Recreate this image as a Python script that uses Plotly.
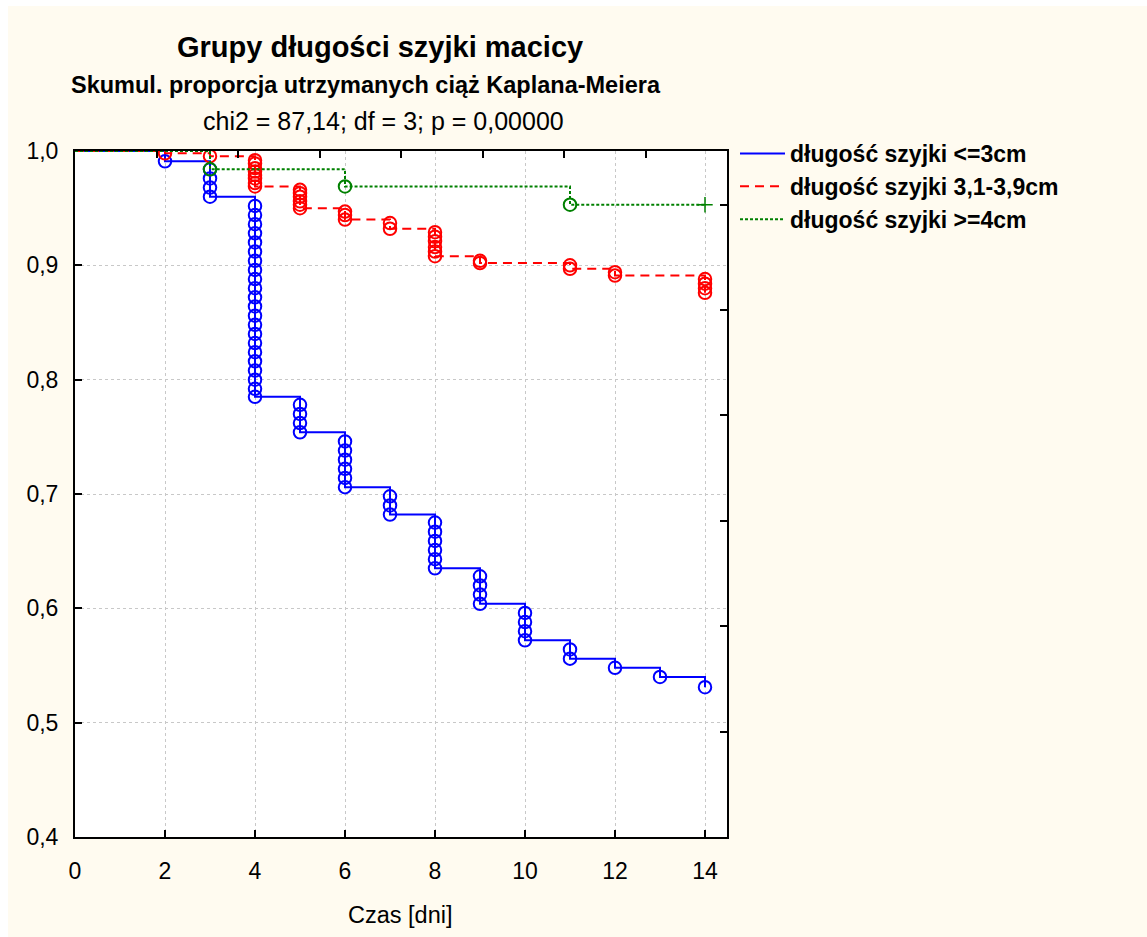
import plotly.graph_objects as go

# ---------------- data ----------------
# group 1: cervix length <= 3 cm  (step curve + event circles)
g1_name = "długość szyjki <=3cm"
g1_step_t = [0, 2, 3, 4, 5, 6, 7, 8, 9, 10, 11, 12, 13, 14]
g1_step_s = [1.000, 0.991, 0.960, 0.785, 0.754, 0.706, 0.682, 0.635, 0.604, 0.572, 0.556, 0.548, 0.540, 0.531]
g1_evt_t = ([2] + [3] * 4 + [4] * 22 + [5] * 4 + [6] * 6 + [7] * 3 + [8] * 6 + [9] * 4 + [10] * 4
            + [11] * 2 + [12] + [13] + [14])
g1_evt_s = [0.991,
            0.984, 0.976, 0.968, 0.960,
            0.952, 0.944, 0.936, 0.928, 0.920, 0.912, 0.904, 0.896, 0.888, 0.880, 0.872,
            0.864, 0.856, 0.848, 0.840, 0.832, 0.824, 0.816, 0.808, 0.800, 0.792, 0.785,
            0.778, 0.770, 0.762, 0.754,
            0.746, 0.738, 0.730, 0.722, 0.714, 0.706,
            0.698, 0.690, 0.682,
            0.675, 0.667, 0.659, 0.651, 0.643, 0.635,
            0.628, 0.620, 0.612, 0.604,
            0.596, 0.588, 0.580, 0.572,
            0.564, 0.556,
            0.548,
            0.540,
            0.531]

# group 2: cervix length 3.1 - 3.9 cm
g2_name = "długość szyjki 3,1-3,9cm"
g2_step_t = [0, 2, 3, 4, 5, 6, 7, 8, 9, 11, 12, 14]
g2_step_s = [1.000, 0.998, 0.9955, 0.969, 0.950, 0.940, 0.932, 0.908, 0.902, 0.897, 0.891, 0.876]
g2_evt_t = ([2] + [3] + [4] * 8 + [5] * 6 + [6] * 3 + [7] * 2 + [8] * 6 + [9] * 2 + [11] * 2
            + [12] * 2 + [14] * 4)
g2_evt_s = [0.998,
            0.9955,
            0.992, 0.989, 0.985, 0.982, 0.979, 0.976, 0.972, 0.969,
            0.966, 0.963, 0.960, 0.956, 0.953, 0.950,
            0.947, 0.944, 0.940,
            0.937, 0.932,
            0.929, 0.925, 0.921, 0.916, 0.912, 0.908,
            0.904, 0.902,
            0.900, 0.897,
            0.894, 0.891,
            0.888, 0.884, 0.880, 0.876]

# group 3: cervix length >= 4 cm
g3_name = "długość szyjki >=4cm"
g3_step_t = [0, 3, 6, 11, 14]
g3_step_s = [1.000, 0.984, 0.969, 0.953, 0.953]
g3_evt_t = [3, 6, 11]
g3_evt_s = [0.984, 0.969, 0.953]
g3_cens_t = [14]
g3_cens_s = [0.953]

x_ticks = [0, 2, 4, 6, 8, 10, 12, 14]
y_ticks = [0.4, 0.5, 0.6, 0.7, 0.8, 0.9, 1.0]

title_main = "Grupy długości szyjki macicy"
title_sub = "Skumul. proporcja utrzymanych ciąż Kaplana-Meiera"
title_stat = "chi2 = 87,14; df = 3; p = 0,00000"
x_title = "Czas [dni]"

# ---------------- styling ----------------
FONT = "Arial, 'Liberation Sans', sans-serif"
BLUE, RED, GREEN = "#0000FF", "#FF0000", "#008000"
CREAM = "#FFFBF0"

W, H = 1147, 937
L, R, T, B = 75, 727, 151, 837   # plot area in px
pw, ph = R - L, B - T


def px_x(x):
    return (x - L) / pw


def px_y(y):
    return (B - y) / ph


fig = go.Figure()

groups = [
    (g1_name, g1_step_t, g1_step_s, g1_evt_t, g1_evt_s, BLUE, "solid"),
    (g2_name, g2_step_t, g2_step_s, g2_evt_t, g2_evt_s, RED, "9px,6px"),
    (g3_name, g3_step_t, g3_step_s, g3_evt_t, g3_evt_s, GREEN, "3px,2px"),
]

for i, (name, st, ss, et, es, col, dash) in enumerate(groups):
    fig.add_trace(go.Scatter(
        x=st, y=ss, mode="lines", name=name, legendgroup=f"g{i}",
        line=dict(color=col, width=2, dash=dash, shape="hv"),
        hoverinfo="skip"))
    fig.add_trace(go.Scatter(
        x=et, y=es, mode="markers", showlegend=False, legendgroup=f"g{i}",
        marker=dict(symbol="circle-open", size=12.5, color=col, line=dict(width=2, color=col)),
        hoverinfo="skip"))

fig.add_trace(go.Scatter(
    x=g3_cens_t, y=g3_cens_s, mode="markers", showlegend=False,
    marker=dict(symbol="cross-thin-open", size=11, color=GREEN, line=dict(width=1.5, color=GREEN)),
    hoverinfo="skip"))

# dummy trace for the secondary (top/right) tick axes
fig.add_trace(go.Scatter(x=[None], y=[None], xaxis="x2", yaxis="y2", showlegend=False,
                         hoverinfo="skip", mode="markers"))

axis_common = dict(showline=True, linecolor="black", linewidth=2, ticks="inside",
                   ticklen=7, tickwidth=2, tickcolor="black", zeroline=False)
grid_common = dict(showgrid=True, gridcolor="#c8c8c8", griddash="3px,3px", gridwidth=1)

fig.update_layout(
    width=W, height=H,
    margin=dict(l=L, r=W - R, t=T, b=H - B, pad=0),
    paper_bgcolor=CREAM, plot_bgcolor="white",
    separators=", ",
    font=dict(family=FONT, color="black", size=23),
    xaxis=dict(range=[0, (R - L) / 45.0], tickvals=x_ticks,
               tickfont=dict(size=23), ticklabelstandoff=12, **grid_common, **axis_common),
    yaxis=dict(range=[0.4, 1.0], tickvals=y_ticks, tickformat=".1f",
               tickfont=dict(size=23), ticklabelstandoff=10, **grid_common, **axis_common),
    xaxis2=dict(overlaying="x", side="top", anchor="y2", range=[0, 8], layer="above traces",
                tickvals=[1, 2, 3, 4, 5, 6, 7], showticklabels=False, showgrid=False,
                **axis_common),
    yaxis2=dict(overlaying="y", side="right", anchor="x2", range=[0, 686 / 105.4],
                tickvals=[0, 1, 2, 3, 4, 5, 6], showticklabels=False, showgrid=False,
                **axis_common),
    legend=dict(x=px_x(735), y=px_y(132), xanchor="left", yanchor="top",
                bgcolor="rgba(0,0,0,0)", font=dict(size=23, weight="bold"),
                tracegroupgap=3, traceorder="normal", itemwidth=45),
    showlegend=True,
)

fig.add_annotation(text=f"<b>{title_main}</b>", x=px_x(380), y=px_y(47), xref="paper", yref="paper",
                   showarrow=False, font=dict(size=29), xanchor="center", yanchor="middle")
fig.add_annotation(text=f"<b>{title_sub}</b>", x=px_x(366), y=px_y(85), xref="paper", yref="paper",
                   showarrow=False, font=dict(size=23.5), xanchor="center", yanchor="middle")
fig.add_annotation(text=title_stat, x=px_x(383), y=px_y(121), xref="paper", yref="paper",
                   showarrow=False, font=dict(size=25), xanchor="center", yanchor="middle")
fig.add_annotation(text=x_title, x=px_x(400), y=px_y(915), xref="paper", yref="paper",
                   showarrow=False, font=dict(size=23.5), xanchor="center", yanchor="middle")

# white strips at the left and top edge of the picture
fig.add_shape(type="rect", xref="paper", yref="paper", x0=px_x(0), x1=px_x(8), y0=px_y(H), y1=px_y(0),
              fillcolor="white", line_width=0, layer="below")
fig.add_shape(type="rect", xref="paper", yref="paper", x0=px_x(0), x1=px_x(W), y0=px_y(6), y1=px_y(0),
              fillcolor="white", line_width=0, layer="below")

fig.write_html("out.html")
